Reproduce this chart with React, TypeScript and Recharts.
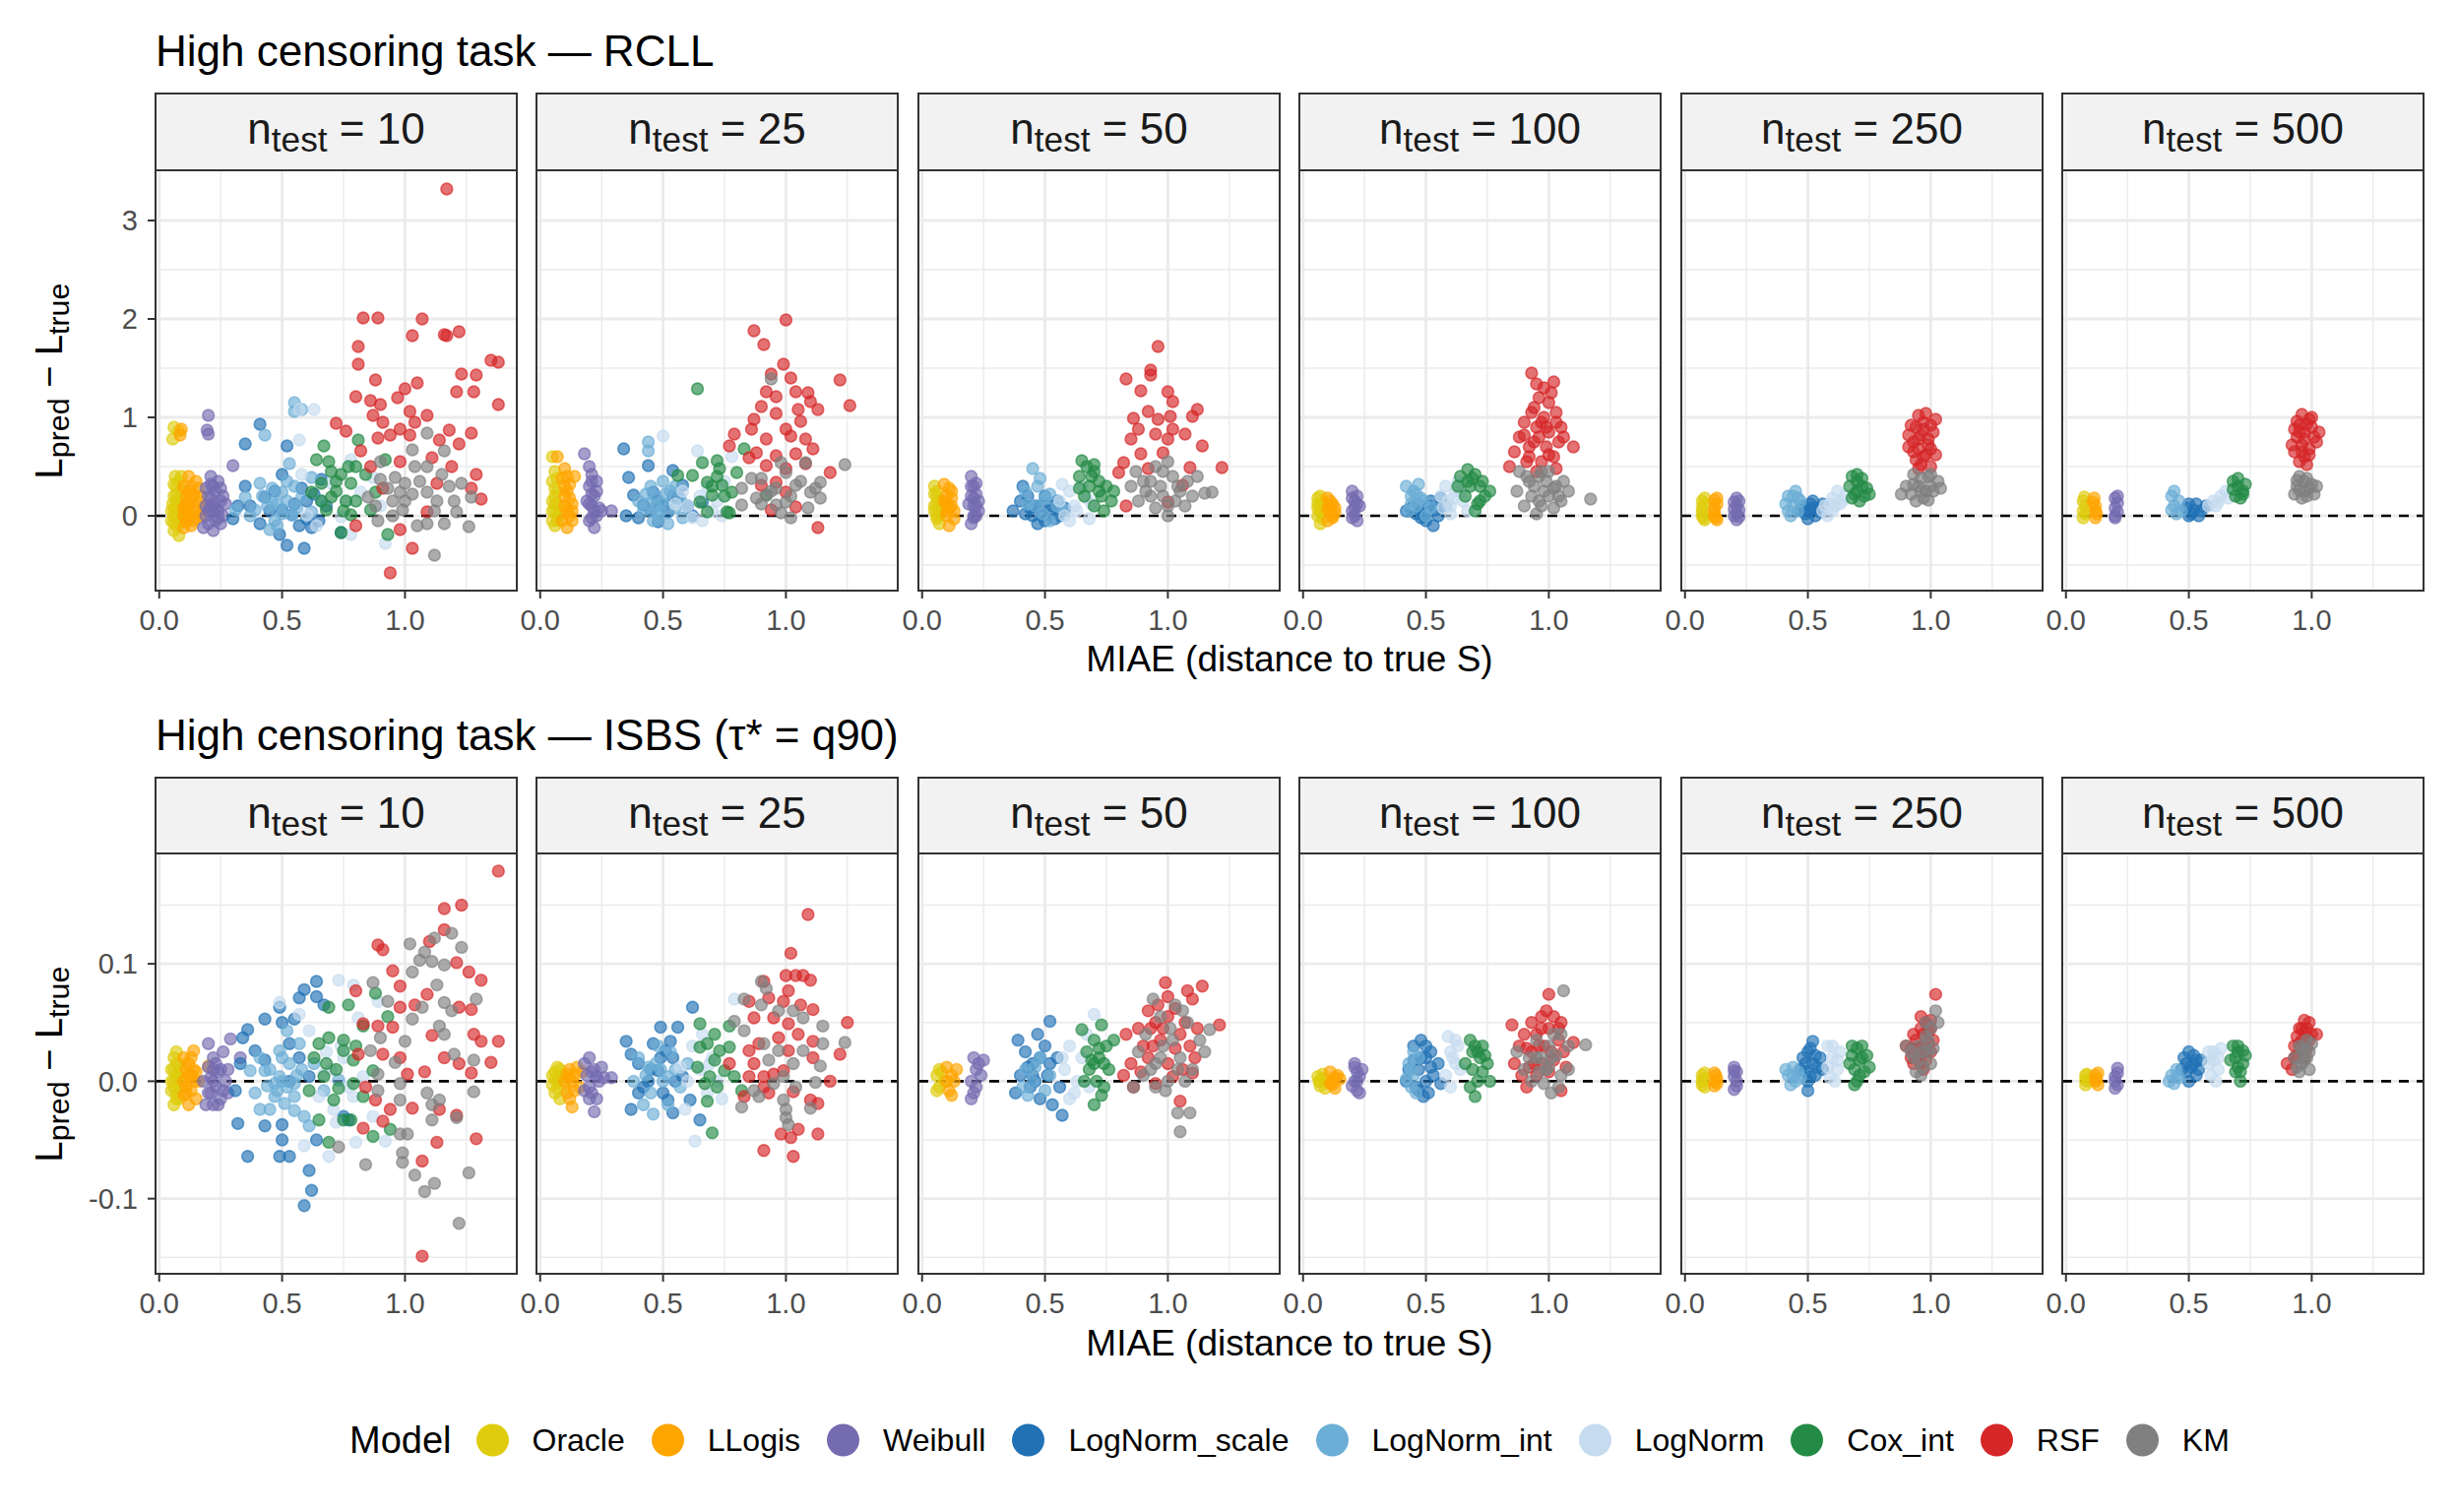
import React from "react";
import {
  ScatterChart,
  Scatter,
  XAxis,
  YAxis,
  CartesianGrid,
  ReferenceLine,
} from "recharts";

type Pt = [number, number];

const FONT = '"Liberation Sans", Arial, Helvetica, sans-serif';

const N_TEST = [10, 25, 50, 100, 250, 500];
const MODELS = ["Oracle", "LLogis", "Weibull", "LogNorm_scale", "LogNorm_int", "LogNorm", "Cox_int", "RSF", "KM"];
const MODEL_COLORS = ["#DFCC0E", "#FFA500", "#756BB1", "#2171B5", "#6BAED6", "#C6DBEF", "#238B45", "#D62728", "#808080"];

const X_TICKS = [0, 0.5, 1];
const X_MINOR = [0.25, 0.75, 1.25];
const RCLL_Y_TICKS = [0, 1, 2, 3];
const RCLL_Y_MINOR = [-0.5, 0.5, 1.5, 2.5];
const ISBS_Y_TICKS = [-0.1, 0, 0.1];
const ISBS_Y_MINOR = [-0.15, -0.05, 0.05, 0.15];

// ---- RCLL row: one list per n_test (10, 25, 50, 100, 250, 500), points are [MIAE, Lpred - Ltrue]
const RCLL_ORACLE: Pt[][] = [
  [[0.06,0.9],[0.055,0.78],[0.08,0.86],[0.06,0.0],[0.07,-0.1],[0.08,0.1],[0.06,0.2],[0.07,0.3],[0.09,-0.05],[0.05,0.05],[0.07,0.15],[0.08,-0.2],[0.06,-0.15],[0.09,0.25],[0.065,0.4],[0.075,0.05],[0.085,0.0],[0.055,0.12],[0.07,-0.02],[0.08,0.35],[0.09,0.18],[0.06,0.08],[0.07,0.22],[0.08,-0.08],[0.05,-0.05],[0.09,0.1],[0.06,0.32],[0.07,0.08],[0.08,0.02],[0.06,-0.07],[0.09,0.4]],
  [[0.05,0.6],[0.06,0.45],[0.05,0.35],[0.06,0.2],[0.05,0.05],[0.07,0.0],[0.06,-0.1],[0.08,0.1],[0.05,0.15],[0.07,-0.05],[0.06,0.28],[0.08,0.02],[0.07,0.12],[0.06,0.05],[0.07,0.25],[0.05,-0.05],[0.07,0.38],[0.06,0.12]],
  [[0.05,0.3],[0.06,0.2],[0.05,0.1],[0.06,0.0],[0.07,-0.08],[0.05,0.05],[0.07,0.15],[0.06,0.25],[0.08,0.08],[0.06,-0.03],[0.07,0.05],[0.06,0.12],[0.05,0.22],[0.07,0.0]],
  [[0.06,0.18],[0.07,0.1],[0.06,0.0],[0.07,-0.08],[0.08,0.05],[0.06,0.12],[0.08,-0.03],[0.07,0.2],[0.07,0.04],[0.06,0.08],[0.08,0.14]],
  [[0.07,0.15],[0.07,0.08],[0.07,0.0],[0.08,-0.04],[0.08,0.12],[0.07,0.04],[0.08,0.18],[0.075,-0.02]],
  [[0.07,0.15],[0.07,0.05],[0.07,-0.02],[0.08,0.1],[0.075,0.19],[0.08,0.02]],
];
const RCLL_LLOGIS: Pt[][] = [
  [[0.09,0.88],[0.085,0.82],[0.1,0.0],[0.12,0.1],[0.14,-0.05],[0.11,0.2],[0.13,0.3],[0.15,0.05],[0.1,-0.12],[0.12,0.4],[0.16,0.15],[0.17,0.0],[0.11,0.05],[0.13,-0.1],[0.14,0.22],[0.18,0.08],[0.1,0.3],[0.12,-0.02],[0.15,0.35],[0.11,0.12],[0.13,0.18],[0.15,-0.02],[0.12,0.25],[0.14,0.1],[0.16,0.28],[0.1,0.08],[0.13,0.0],[0.17,0.2],[0.11,-0.06]],
  [[0.07,0.6],[0.1,0.48],[0.09,0.38],[0.11,0.25],[0.1,0.1],[0.12,0.0],[0.09,-0.05],[0.13,0.05],[0.11,-0.12],[0.12,0.18],[0.1,0.3],[0.13,0.12],[0.14,0.4],[0.11,0.05],[0.1,0.2],[0.12,0.32],[0.13,-0.05],[0.11,0.4]],
  [[0.09,0.32],[0.1,0.2],[0.12,0.1],[0.1,0.0],[0.11,-0.1],[0.13,0.05],[0.09,0.15],[0.12,0.25],[0.11,0.08],[0.13,-0.03],[0.1,0.12],[0.1,0.05],[0.12,0.18],[0.11,0.28]],
  [[0.1,0.18],[0.11,0.1],[0.12,0.0],[0.1,-0.05],[0.13,0.08],[0.11,0.15],[0.12,-0.02],[0.13,0.03],[0.11,0.04],[0.12,0.12],[0.1,0.07]],
  [[0.12,0.16],[0.12,0.08],[0.12,0.0],[0.13,-0.04],[0.13,0.12],[0.12,0.04],[0.13,0.18],[0.125,-0.02]],
  [[0.11,0.14],[0.12,0.05],[0.12,-0.02],[0.12,0.1],[0.115,0.18],[0.125,0.02]],
];
const RCLL_WEIBULL: Pt[][] = [
  [[0.2,1.02],[0.195,0.87],[0.2,0.83],[0.3,0.51],[0.19,0.0],[0.21,0.1],[0.23,-0.05],[0.2,0.2],[0.22,0.3],[0.24,0.05],[0.18,-0.12],[0.25,0.15],[0.21,0.4],[0.23,0.25],[0.26,0.0],[0.19,0.1],[0.22,-0.15],[0.24,0.35],[0.27,0.12],[0.2,0.05],[0.25,-0.08],[0.21,0.18],[0.23,0.08],[0.2,-0.08],[0.22,0.12],[0.25,0.28],[0.19,0.28],[0.24,-0.02],[0.22,0.05],[0.26,0.2],[0.21,0.32]],
  [[0.18,0.63],[0.2,0.5],[0.21,0.42],[0.2,0.3],[0.22,0.2],[0.21,0.1],[0.23,0.0],[0.2,-0.05],[0.22,-0.12],[0.24,0.08],[0.19,0.15],[0.23,0.25],[0.25,0.05],[0.29,0.05],[0.21,0.35],[0.21,0.22],[0.22,0.05],[0.2,0.12],[0.23,0.35],[0.21,-0.02]],
  [[0.2,0.4],[0.21,0.3],[0.2,0.2],[0.22,0.1],[0.21,0.0],[0.2,-0.08],[0.23,0.05],[0.22,0.22],[0.19,0.12],[0.23,0.15],[0.21,-0.02],[0.22,0.33],[0.21,0.1],[0.22,0.0],[0.2,0.3],[0.21,0.18]],
  [[0.2,0.25],[0.21,0.15],[0.2,0.05],[0.22,-0.05],[0.21,0.0],[0.23,0.1],[0.22,0.2],[0.2,-0.02],[0.21,0.08],[0.22,0.12],[0.2,0.18]],
  [[0.21,0.18],[0.21,0.1],[0.21,0.02],[0.21,-0.04],[0.22,0.06],[0.2,0.14],[0.2,0.0],[0.22,0.15],[0.2,0.07],[0.22,-0.01]],
  [[0.2,0.18],[0.2,0.08],[0.2,0.0],[0.21,0.13],[0.2,-0.02],[0.21,0.04],[0.21,0.2]],
];
const RCLL_LN_SCALE: Pt[][] = [
  [[0.41,0.93],[0.35,0.73],[0.52,0.71],[0.5,0.42],[0.52,-0.3],[0.59,-0.33],[0.35,0.3],[0.32,0.1],[0.3,-0.03],[0.43,0.19],[0.5,0.06],[0.54,0.01],[0.6,-0.03],[0.62,-0.12],[0.66,0.37],[0.6,0.15],[0.49,-0.19],[0.41,-0.08],[0.58,0.28],[0.74,-0.17],[0.68,0.1],[0.37,0.1],[0.45,0.05],[0.55,0.12],[0.63,0.22],[0.57,-0.1],[0.47,0.25],[0.65,-0.05]],
  [[0.34,0.68],[0.36,0.39],[0.44,0.51],[0.35,0.0],[0.38,0.21],[0.48,-0.06],[0.54,0.46],[0.56,0.18],[0.52,0.04],[0.42,0.11],[0.62,0.0],[0.66,0.14],[0.58,0.31],[0.46,0.24],[0.5,0.11],[0.4,-0.02],[0.48,0.15],[0.54,0.2],[0.45,0.05],[0.6,0.1]],
  [[0.37,0.05],[0.4,0.15],[0.41,0.3],[0.45,0.0],[0.48,0.1],[0.5,-0.05],[0.52,0.05],[0.55,0.15],[0.43,0.2],[0.47,-0.08],[0.54,-0.03],[0.58,0.08],[0.44,0.08],[0.5,0.2],[0.56,0.0],[0.46,0.1],[0.49,0.0],[0.53,0.1],[0.42,0.02]],
  [[0.42,0.05],[0.45,0.1],[0.48,-0.02],[0.5,0.05],[0.52,0.15],[0.55,0.0],[0.53,-0.1],[0.47,0.12],[0.58,0.1],[0.5,-0.05],[0.56,0.18],[0.46,0.02],[0.51,0.1],[0.54,0.06],[0.49,0.0],[0.44,0.08]],
  [[0.48,0.1],[0.5,0.05],[0.52,0.15],[0.5,-0.03],[0.54,0.07],[0.56,0.12],[0.53,0.0],[0.49,0.02],[0.51,0.12],[0.55,0.04],[0.52,0.08],[0.47,0.06]],
  [[0.49,0.08],[0.51,0.02],[0.53,0.12],[0.55,0.05],[0.5,0.0],[0.57,0.1],[0.52,0.06],[0.54,0.0],[0.5,0.12]],
];
const RCLL_LN_INT: Pt[][] = [
  [[0.55,1.15],[0.58,1.08],[0.55,1.06],[0.43,0.82],[0.53,0.53],[0.41,0.33],[0.35,0.19],[0.46,0.15],[0.39,0.06],[0.5,0.24],[0.58,0.19],[0.47,-0.05],[0.45,-0.14],[0.62,0.39],[0.66,0.15],[0.37,0.0],[0.54,0.01],[0.31,0.06],[0.62,0.04],[0.44,0.1],[0.48,0.12],[0.52,0.15],[0.56,0.08],[0.46,0.28],[0.5,0.02],[0.42,0.2],[0.55,0.3],[0.48,-0.1],[0.52,0.35]],
  [[0.44,0.75],[0.44,0.66],[0.45,0.3],[0.47,0.2],[0.5,0.12],[0.42,0.05],[0.48,0.0],[0.53,0.25],[0.55,0.08],[0.46,-0.05],[0.4,0.15],[0.52,-0.08],[0.57,0.18],[0.5,0.35],[0.43,0.22],[0.58,-0.02],[0.47,0.1],[0.51,0.22],[0.44,0.12],[0.55,0.3],[0.49,0.05]],
  [[0.45,0.48],[0.42,0.25],[0.47,0.3],[0.5,0.18],[0.46,0.1],[0.52,0.22],[0.49,0.02],[0.55,0.1],[0.43,0.12],[0.58,0.05],[0.52,-0.05],[0.48,0.38]],
  [[0.42,0.3],[0.44,0.2],[0.46,0.1],[0.43,0.05],[0.48,0.18],[0.5,0.0],[0.45,0.25],[0.52,0.08],[0.47,0.32],[0.44,0.12],[0.49,0.15],[0.46,0.22]],
  [[0.42,0.2],[0.44,0.1],[0.46,0.05],[0.43,0.0],[0.45,0.25],[0.47,0.15],[0.41,0.12],[0.44,0.2],[0.42,0.05],[0.46,0.18]],
  [[0.43,0.2],[0.44,0.1],[0.45,0.02],[0.46,0.15],[0.47,0.05],[0.44,0.25],[0.43,0.06]],
];
const RCLL_LN: Pt[][] = [
  [[0.63,1.08],[0.57,0.77],[0.57,1.08],[0.78,0.57],[0.92,-0.28],[0.78,-0.19],[0.82,0.24],[0.6,0.01],[0.7,0.33],[0.87,0.39],[0.76,0.15],[0.64,-0.1],[0.9,0.1],[0.74,-0.01],[0.58,0.42]],
  [[0.5,0.81],[0.64,0.66],[0.78,0.6],[0.6,0.1],[0.65,0.2],[0.7,0.05],[0.62,-0.02],[0.68,0.3],[0.72,0.15],[0.58,0.25],[0.74,0.0],[0.66,-0.05],[0.75,0.35],[0.55,0.12]],
  [[0.56,0.15],[0.6,0.25],[0.62,0.1],[0.58,0.0],[0.65,0.3],[0.63,0.05],[0.67,0.18],[0.6,-0.05],[0.69,0.12],[0.57,0.32],[0.68,-0.03]],
  [[0.56,0.2],[0.58,0.3],[0.6,0.1],[0.62,0.25],[0.65,0.15],[0.63,0.35],[0.6,0.02],[0.67,0.05],[0.57,0.08],[0.61,0.18],[0.64,0.25],[0.59,0.15]],
  [[0.57,0.1],[0.6,0.18],[0.62,0.25],[0.65,0.2],[0.6,0.05],[0.58,0.0],[0.63,0.12],[0.56,0.05],[0.61,0.1],[0.64,0.15],[0.59,0.12]],
  [[0.6,0.15],[0.63,0.2],[0.65,0.25],[0.61,0.1],[0.66,0.18],[0.62,0.14],[0.58,0.1]],
];
const RCLL_COX: Pt[][] = [
  [[0.67,0.71],[0.81,0.77],[0.64,0.57],[0.69,0.55],[0.74,0.42],[0.78,0.33],[0.66,0.33],[0.7,0.19],[0.62,0.24],[0.76,0.15],[0.86,0.06],[0.84,0.42],[0.93,-0.19],[0.74,-0.17],[0.92,0.57],[0.78,0.01],[0.68,0.06],[0.88,0.24],[0.8,0.5],[0.72,0.35],[0.72,0.25],[0.75,0.05],[0.8,0.15],[0.7,0.45],[0.77,0.5],[0.66,0.15]],
  [[0.64,1.29],[0.83,0.68],[0.66,0.54],[0.72,0.56],[0.62,0.41],[0.68,0.34],[0.74,0.31],[0.78,0.24],[0.7,0.21],[0.65,0.14],[0.76,0.04],[0.92,0.21],[0.68,0.04],[0.56,0.41],[0.8,0.44],[0.77,0.03],[0.72,0.4],[0.75,0.2],[0.7,0.3],[0.73,0.48]],
  [[0.65,0.56],[0.67,0.5],[0.64,0.4],[0.7,0.45],[0.72,0.35],[0.68,0.3],[0.75,0.3],[0.73,0.2],[0.66,0.2],[0.77,0.15],[0.7,0.1],[0.74,0.05],[0.78,0.25],[0.64,0.28],[0.69,0.4],[0.72,0.25],[0.7,0.52]],
  [[0.64,0.4],[0.67,0.47],[0.7,0.42],[0.72,0.3],[0.68,0.3],[0.74,0.2],[0.66,0.2],[0.71,0.12],[0.76,0.25],[0.7,0.05],[0.63,0.3],[0.69,0.38],[0.73,0.35],[0.67,0.35],[0.72,0.15]],
  [[0.68,0.4],[0.7,0.35],[0.72,0.3],[0.69,0.22],[0.73,0.2],[0.71,0.15],[0.74,0.28],[0.7,0.42],[0.67,0.3],[0.72,0.38],[0.7,0.25],[0.75,0.22],[0.68,0.18]],
  [[0.68,0.35],[0.7,0.3],[0.72,0.25],[0.69,0.2],[0.73,0.32],[0.71,0.18],[0.7,0.38],[0.72,0.22],[0.68,0.27]],
];
const RCLL_RSF: Pt[][] = [
  [[1.17,3.32],[0.83,2.01],[0.89,2.01],[1.07,2.0],[1.03,1.83],[1.16,1.84],[1.17,1.83],[1.22,1.87],[0.81,1.72],[0.81,1.54],[1.35,1.58],[1.38,1.56],[0.88,1.38],[1.05,1.35],[1.0,1.29],[1.23,1.44],[1.29,1.43],[1.21,1.26],[1.28,1.26],[0.8,1.21],[0.86,1.17],[0.9,1.13],[0.97,1.2],[1.38,1.13],[1.02,1.06],[1.09,1.02],[0.87,1.02],[0.91,0.95],[0.72,0.94],[0.76,0.86],[0.98,0.88],[1.04,0.95],[1.18,0.87],[1.27,0.84],[0.89,0.79],[0.94,0.82],[1.02,0.82],[1.14,0.77],[1.22,0.73],[0.82,0.66],[0.98,0.55],[1.11,0.59],[1.29,0.42],[0.91,0.28],[1.09,0.04],[1.31,0.17],[1.27,0.28],[0.8,-0.1],[0.98,-0.14],[1.03,-0.33],[0.94,-0.58],[1.13,0.33],[1.19,0.5],[0.86,0.5]],
  [[1.0,1.99],[0.87,1.88],[0.91,1.74],[0.99,1.54],[1.22,1.38],[1.26,1.12],[0.94,1.44],[1.02,1.4],[0.92,1.26],[0.96,1.21],[1.04,1.26],[1.09,1.25],[1.1,1.16],[1.13,1.08],[0.9,1.11],[0.96,1.04],[1.05,1.08],[0.87,0.98],[1.06,0.96],[0.86,0.88],[1.0,0.88],[0.92,0.78],[1.02,0.81],[1.08,0.78],[0.79,0.83],[0.77,0.71],[1.11,0.68],[0.88,0.64],[0.96,0.61],[1.04,0.63],[0.85,0.59],[1.0,0.48],[1.08,0.53],[1.18,0.44],[0.92,0.51],[0.96,0.34],[1.0,0.24],[1.04,0.09],[0.94,0.06],[1.13,-0.12],[0.9,0.31]],
  [[0.96,1.72],[0.93,1.48],[0.93,1.43],[0.83,1.39],[0.89,1.27],[1.0,1.26],[1.02,1.16],[1.12,1.08],[1.1,1.01],[0.86,0.99],[0.92,1.06],[0.96,0.98],[1.01,1.01],[0.88,0.88],[0.95,0.83],[1.0,0.78],[1.07,0.83],[1.14,0.71],[0.85,0.78],[1.22,0.49],[0.82,0.54],[0.89,0.63],[0.98,0.64],[1.09,0.49],[0.8,0.44],[1.0,0.14],[0.83,0.1],[1.06,0.31],[0.92,0.48],[1.02,0.88]],
  [[0.93,1.45],[0.95,1.34],[1.02,1.36],[0.96,1.2],[1.0,1.15],[0.93,1.05],[0.98,1.0],[1.03,1.05],[0.9,0.95],[0.95,0.9],[1.0,0.85],[1.05,0.9],[0.88,0.8],[0.94,0.75],[0.99,0.7],[1.04,0.75],[1.1,0.7],[0.86,0.65],[0.92,0.6],[0.97,0.55],[1.02,0.6],[0.84,0.5],[0.95,0.45],[1.03,0.48],[0.9,0.82],[1.01,1.25],[0.97,0.95],[0.92,0.7],[1.0,0.62],[0.96,0.8],[1.06,0.8],[0.94,1.1],[0.99,0.9],[1.03,0.95],[0.91,0.55],[0.98,1.3]],
  [[0.95,1.02],[0.97,0.95],[0.94,0.9],[1.0,0.92],[0.96,0.82],[0.93,0.75],[0.99,0.78],[0.95,0.68],[0.98,0.62],[0.94,0.57],[1.0,0.68],[0.96,0.52],[1.01,0.85],[0.93,0.65],[0.97,0.88],[0.95,0.78],[0.99,0.72],[0.97,0.6],[1.02,0.98],[0.91,0.82],[0.92,0.92],[0.98,1.04],[1.02,0.62],[0.95,0.48],[0.91,0.7],[1.0,0.5]],
  [[0.96,1.03],[0.99,0.98],[0.95,0.92],[1.0,0.9],[0.97,0.85],[0.94,0.8],[1.01,0.8],[0.96,0.72],[0.99,0.68],[0.93,0.65],[0.97,0.6],[0.95,0.55],[0.98,0.52],[1.02,0.75],[0.92,0.72],[0.98,0.93],[0.96,0.65],[0.99,0.62],[0.95,0.85],[0.97,0.78],[1.0,1.0],[0.94,0.96],[1.03,0.85],[0.93,0.88]],
];
const RCLL_KM: Pt[][] = [
  [[1.03,0.67],[1.09,0.84],[1.16,0.66],[0.96,0.39],[1.04,0.5],[1.09,0.5],[0.9,0.37],[1.0,0.33],[1.15,0.42],[1.2,0.15],[1.23,0.33],[0.85,0.19],[1.09,0.24],[0.95,0.15],[0.99,0.06],[1.05,-0.1],[1.09,-0.08],[1.16,-0.08],[0.89,-0.05],[1.12,-0.4],[1.26,-0.11],[1.21,0.04],[1.27,0.19],[1.13,0.15],[0.98,0.24],[0.88,0.1],[0.93,0.28],[1.0,0.15],[1.06,0.35],[1.12,0.05],[0.95,0.0],[1.18,0.3],[1.03,0.22],[0.9,0.55]],
  [[0.94,1.39],[1.24,0.52],[1.14,0.34],[1.08,0.54],[1.0,0.44],[0.86,0.38],[0.82,0.28],[0.88,0.18],[0.96,0.28],[1.04,0.31],[1.1,0.24],[1.14,0.18],[1.0,0.14],[0.92,0.21],[1.02,-0.02],[0.98,0.03],[0.82,0.11],[1.09,0.08],[0.96,0.11],[0.9,0.38],[0.98,0.54],[0.94,0.25],[1.02,0.2],[1.06,0.35],[0.9,0.12],[1.12,0.28]],
  [[0.87,0.45],[0.9,0.35],[0.95,0.5],[1.0,0.55],[1.02,0.4],[0.97,0.3],[0.93,0.2],[0.88,0.15],[1.05,0.25],[1.08,0.35],[1.12,0.4],[1.1,0.2],[1.15,0.23],[1.18,0.24],[1.0,0.1],[0.95,0.08],[1.03,0.15],[1.0,0.0],[0.85,0.3],[1.07,0.1],[0.98,0.2],[0.93,0.35],[0.98,0.45],[1.04,0.3],[0.91,0.25]],
  [[0.88,0.45],[0.92,0.35],[0.96,0.4],[1.0,0.45],[1.03,0.3],[0.98,0.25],[0.93,0.2],[0.87,0.25],[1.05,0.15],[0.97,0.1],[0.95,0.02],[1.02,0.08],[1.08,0.25],[1.17,0.17],[0.9,0.1],[1.0,0.2],[0.94,0.3],[1.06,0.35],[0.99,0.35],[0.96,0.15],[1.02,0.28],[0.91,0.4],[1.04,0.2],[0.97,0.45]],
  [[0.93,0.42],[0.96,0.38],[0.99,0.4],[0.95,0.3],[1.0,0.3],[0.92,0.22],[0.97,0.18],[0.94,0.15],[1.01,0.25],[0.98,0.25],[0.9,0.3],[0.88,0.22],[1.03,0.35],[0.96,0.25],[0.93,0.32],[1.04,0.28],[0.99,0.16],[1.0,0.42]],
  [[0.95,0.4],[0.98,0.38],[0.94,0.3],[1.0,0.32],[0.97,0.25],[0.93,0.22],[1.01,0.22],[0.96,0.18],[0.97,0.35],[0.99,0.28],[0.95,0.26],[1.02,0.3],[0.98,0.2],[0.94,0.36]],
];

// ---- ISBS row
const ISBS_ORACLE: Pt[][] = [
  [[0.05,0.01],[0.06,0.0],[0.07,-0.01],[0.06,0.02],[0.08,0.005],[0.05,-0.008],[0.07,0.015],[0.08,-0.015],[0.06,-0.02],[0.09,0.0],[0.07,0.025],[0.06,0.01],[0.07,0.005],[0.05,0.0],[0.08,0.015],[0.07,-0.015],[0.06,-0.005],[0.09,0.01],[0.08,-0.005]],
  [[0.05,0.005],[0.07,0.0],[0.06,-0.01],[0.08,0.01],[0.1,-0.005],[0.05,-0.003],[0.09,0.005],[0.07,0.012],[0.08,-0.015],[0.06,0.008],[0.06,0.002],[0.07,-0.006],[0.08,0.003]],
  [[0.06,0.005],[0.07,-0.005],[0.08,0.008],[0.06,-0.008],[0.09,0.0],[0.07,0.01]],
  [[0.06,0.004],[0.07,-0.004],[0.08,0.006],[0.07,0.0],[0.09,-0.006],[0.065,0.0],[0.08,0.002]],
  [[0.07,0.005],[0.08,-0.005],[0.07,0.0],[0.08,0.007],[0.075,0.002],[0.07,-0.003]],
  [[0.08,0.005],[0.08,-0.003],[0.09,0.0],[0.085,0.006],[0.08,0.001]],
];
const ISBS_LLOGIS: Pt[][] = [
  [[0.14,0.026],[0.2,0.013],[0.1,0.0],[0.12,0.015],[0.11,-0.01],[0.13,0.005],[0.15,-0.015],[0.1,0.02],[0.12,-0.02],[0.16,0.0],[0.14,0.01],[0.11,-0.005],[0.11,0.01],[0.13,-0.008],[0.12,0.005],[0.14,0.0],[0.1,-0.012],[0.15,0.008],[0.13,0.02]],
  [[0.13,-0.022],[0.1,0.0],[0.12,0.01],[0.14,0.005],[0.11,-0.01],[0.16,-0.005],[0.15,0.012],[0.13,0.0],[0.17,0.008],[0.12,-0.015],[0.12,0.003],[0.14,-0.008],[0.11,0.006]],
  [[0.1,0.012],[0.12,0.005],[0.11,-0.008],[0.13,0.0],[0.14,0.01],[0.12,-0.012],[0.1,0.0]],
  [[0.11,0.008],[0.12,0.0],[0.13,-0.006],[0.14,0.005],[0.12,-0.003],[0.15,0.002],[0.13,0.003],[0.11,-0.002]],
  [[0.12,0.007],[0.12,-0.004],[0.13,0.002],[0.12,0.0],[0.125,0.005],[0.13,-0.002]],
  [[0.12,0.005],[0.13,-0.003],[0.12,0.0],[0.13,0.007],[0.125,0.002]],
];
const ISBS_WEIBULL: Pt[][] = [
  [[0.2,0.032],[0.29,0.036],[0.33,0.02],[0.22,0.02],[0.25,0.01],[0.18,0.0],[0.21,-0.01],[0.24,-0.02],[0.27,0.0],[0.2,0.012],[0.23,-0.005],[0.26,0.025],[0.19,-0.02],[0.28,0.01],[0.22,0.0],[0.22,0.01],[0.24,0.008],[0.21,0.003],[0.26,-0.008],[0.23,0.015],[0.2,-0.01],[0.25,-0.015],[0.22,-0.02],[0.28,-0.01]],
  [[0.22,-0.026],[0.18,0.015],[0.2,0.02],[0.22,0.01],[0.24,0.0],[0.2,-0.005],[0.23,-0.015],[0.25,0.012],[0.19,0.005],[0.21,-0.01],[0.26,0.003],[0.18,-0.008],[0.29,0.003],[0.21,0.008],[0.23,0.004],[0.2,-0.015]],
  [[0.21,0.02],[0.22,0.01],[0.2,0.0],[0.21,-0.01],[0.23,0.015],[0.2,-0.015],[0.24,0.005],[0.22,-0.005],[0.25,0.018]],
  [[0.21,0.015],[0.22,0.008],[0.21,0.0],[0.22,-0.008],[0.23,0.004],[0.2,-0.004],[0.24,0.01],[0.23,-0.01],[0.22,0.0],[0.21,0.012]],
  [[0.2,0.012],[0.2,0.004],[0.21,-0.004],[0.2,-0.007],[0.21,0.008],[0.21,0.0],[0.2,0.009]],
  [[0.21,0.011],[0.2,0.004],[0.21,-0.003],[0.2,-0.006],[0.21,0.007],[0.2,0.0]],
];
const ISBS_LN_SCALE: Pt[][] = [
  [[0.64,0.085],[0.59,0.078],[0.64,0.072],[0.57,0.071],[0.49,0.063],[0.43,0.053],[0.36,0.044],[0.34,0.037],[0.55,0.053],[0.5,0.05],[0.67,0.065],[0.39,0.026],[0.33,0.015],[0.43,0.018],[0.53,0.032],[0.32,-0.036],[0.43,-0.038],[0.5,-0.037],[0.5,-0.05],[0.36,-0.064],[0.49,-0.064],[0.53,-0.064],[0.61,-0.076],[0.62,-0.093],[0.59,-0.106],[0.64,-0.05],[0.53,0.0],[0.31,-0.008],[0.75,-0.03],[0.77,-0.033],[0.57,0.02],[0.61,0.004]],
  [[0.62,0.063],[0.49,0.046],[0.56,0.046],[0.35,0.034],[0.37,0.023],[0.46,0.032],[0.53,0.034],[0.4,0.015],[0.48,0.009],[0.54,0.02],[0.44,0.0],[0.37,-0.024],[0.52,-0.016],[0.54,-0.027],[0.65,-0.033],[0.61,-0.016],[0.5,-0.01],[0.4,-0.01],[0.58,0.004],[0.51,0.026],[0.45,0.01],[0.49,0.02],[0.55,0.0],[0.42,-0.005]],
  [[0.52,0.051],[0.39,0.035],[0.57,-0.029],[0.47,0.04],[0.42,0.025],[0.45,0.015],[0.5,0.03],[0.55,0.02],[0.4,0.005],[0.44,-0.005],[0.48,-0.015],[0.53,-0.02],[0.51,0.005],[0.56,-0.005],[0.46,0.0],[0.38,-0.01],[0.48,0.02],[0.45,0.005],[0.52,0.015],[0.43,0.012]],
  [[0.45,0.03],[0.48,0.035],[0.5,0.02],[0.52,0.025],[0.47,0.01],[0.43,0.01],[0.5,0.0],[0.53,0.005],[0.55,0.015],[0.46,-0.005],[0.51,-0.01],[0.56,-0.002],[0.42,0.0],[0.49,-0.013],[0.48,0.02],[0.52,0.012],[0.45,0.018],[0.5,0.03],[0.47,-0.008]],
  [[0.52,0.034],[0.48,0.02],[0.5,0.025],[0.52,0.015],[0.49,0.008],[0.53,0.005],[0.5,0.0],[0.54,0.012],[0.5,-0.008],[0.47,0.01],[0.55,0.02],[0.51,0.028],[0.53,0.022],[0.49,0.015],[0.51,0.004],[0.56,0.01]],
  [[0.48,0.02],[0.5,0.025],[0.52,0.015],[0.49,0.008],[0.53,0.005],[0.5,0.0],[0.55,0.018],[0.47,0.01],[0.54,0.01],[0.51,0.012],[0.52,0.022],[0.49,0.015],[0.53,0.018]],
];
const ISBS_LN_INT: Pt[][] = [
  [[0.49,0.026],[0.43,0.009],[0.47,-0.002],[0.39,-0.01],[0.41,-0.024],[0.51,-0.019],[0.55,-0.013],[0.59,-0.03],[0.61,-0.038],[0.47,-0.013],[0.37,0.009],[0.52,0.043],[0.57,0.032],[0.63,0.015],[0.67,-0.008],[0.45,-0.024],[0.55,-0.002],[0.73,0.001],[0.49,0.004],[0.41,0.02],[0.45,0.01],[0.5,0.0],[0.53,0.015],[0.56,0.005],[0.48,-0.008],[0.52,-0.005],[0.44,-0.004],[0.58,0.01],[0.5,0.02],[0.55,-0.025]],
  [[0.4,0.02],[0.43,0.005],[0.45,-0.01],[0.47,0.015],[0.5,0.0],[0.52,-0.02],[0.55,0.01],[0.42,-0.02],[0.48,0.03],[0.57,-0.005],[0.38,0.0],[0.53,0.025],[0.46,-0.028],[0.6,0.015],[0.49,0.01],[0.44,0.012],[0.52,0.004]],
  [[0.42,0.01],[0.45,0.0],[0.43,-0.012],[0.48,0.02],[0.5,-0.008],[0.46,0.012],[0.52,0.005],[0.41,-0.005]],
  [[0.43,0.015],[0.45,0.005],[0.44,-0.005],[0.47,0.02],[0.46,-0.01],[0.42,0.002],[0.44,0.01],[0.45,0.025]],
  [[0.42,0.005],[0.44,0.012],[0.45,0.0],[0.43,-0.003],[0.46,0.008],[0.41,0.01],[0.44,0.004],[0.47,0.003]],
  [[0.43,0.005],[0.45,0.01],[0.44,-0.002],[0.46,0.003],[0.42,0.0],[0.45,0.004]],
];
const ISBS_LN: Pt[][] = [
  [[0.73,0.086],[0.79,0.082],[0.49,0.067],[0.57,0.057],[0.89,0.068],[0.81,0.054],[0.59,-0.055],[0.69,-0.064],[0.8,-0.052],[0.92,-0.051],[0.75,0.02],[0.65,-0.013],[0.79,-0.013],[0.71,-0.024],[0.83,0.004],[0.61,0.043],[0.67,0.006],[0.87,-0.03],[0.7,0.01],[0.74,0.03],[0.77,-0.005],[0.68,0.025],[0.72,-0.035]],
  [[0.79,0.07],[0.63,-0.051],[0.59,-0.024],[0.62,0.03],[0.65,0.01],[0.68,-0.01],[0.7,0.02],[0.72,0.0],[0.6,0.0],[0.66,0.04],[0.74,-0.015],[0.69,0.015],[0.57,0.012]],
  [[0.7,0.057],[0.6,0.03],[0.58,0.01],[0.62,-0.01],[0.65,0.02],[0.63,0.0],[0.67,0.04],[0.6,-0.015],[0.57,0.02],[0.68,-0.005]],
  [[0.59,0.038],[0.6,0.025],[0.62,0.015],[0.58,0.005],[0.63,0.03],[0.6,-0.005],[0.64,0.01],[0.61,0.02],[0.62,0.035]],
  [[0.58,0.03],[0.6,0.02],[0.62,0.01],[0.59,0.003],[0.63,0.025],[0.61,0.0],[0.6,0.03],[0.58,0.012],[0.62,0.018]],
  [[0.58,0.025],[0.6,0.018],[0.62,0.01],[0.59,0.005],[0.63,0.028],[0.61,0.0],[0.6,0.025],[0.62,0.02],[0.58,0.015]],
];
const ISBS_COX: Pt[][] = [
  [[0.88,0.075],[0.77,0.065],[0.69,0.063],[0.93,0.055],[0.83,0.047],[0.69,0.037],[0.65,0.032],[0.75,0.026],[0.79,0.018],[0.63,0.02],[0.67,0.004],[0.61,-0.008],[0.71,-0.016],[0.75,-0.033],[0.78,-0.033],[0.87,-0.047],[0.69,-0.052],[0.94,-0.041],[0.87,0.009],[0.79,-0.002],[0.65,-0.033],[0.83,-0.013],[0.72,0.01],[0.75,0.035],[0.68,0.015],[0.73,-0.006],[0.8,0.03]],
  [[0.65,0.049],[0.7,-0.044],[0.68,-0.017],[0.77,0.047],[0.71,0.04],[0.68,0.032],[0.65,0.029],[0.73,0.026],[0.71,0.018],[0.75,0.009],[0.69,0.004],[0.67,-0.002],[0.72,-0.005],[0.79,0.004],[0.82,-0.008],[0.77,0.029],[0.64,0.012]],
  [[0.73,0.048],[0.7,-0.02],[0.65,0.044],[0.7,0.035],[0.75,0.03],[0.72,0.02],[0.76,0.01],[0.68,0.01],[0.71,0.0],[0.74,-0.005],[0.67,0.025],[0.78,0.035],[0.73,-0.012],[0.66,0.0],[0.69,0.018],[0.72,0.028],[0.7,0.015],[0.74,0.015]],
  [[0.68,0.035],[0.7,0.03],[0.73,0.03],[0.72,0.02],[0.69,0.01],[0.75,0.015],[0.71,0.0],[0.68,-0.005],[0.76,0.0],[0.7,-0.013],[0.74,0.022],[0.66,0.015],[0.71,0.025],[0.73,0.008],[0.69,0.025]],
  [[0.68,0.03],[0.7,0.028],[0.72,0.02],[0.69,0.01],[0.73,0.008],[0.7,0.0],[0.67,0.015],[0.75,0.012],[0.69,-0.003],[0.71,0.018],[0.72,0.03],[0.74,0.022],[0.68,0.022],[0.71,0.005]],
  [[0.68,0.03],[0.7,0.025],[0.72,0.015],[0.69,0.008],[0.71,0.0],[0.67,0.018],[0.73,0.022],[0.7,0.012],[0.7,0.03],[0.72,0.026],[0.69,0.02],[0.71,0.008]],
];
const ISBS_RSF: Pt[][] = [
  [[1.38,0.179],[1.16,0.147],[1.23,0.15],[1.16,0.129],[1.1,0.119],[0.89,0.116],[0.91,0.112],[0.95,0.094],[0.98,0.081],[0.8,0.077],[1.21,0.101],[1.26,0.093],[1.31,0.086],[1.09,0.074],[1.04,0.065],[0.98,0.063],[1.22,0.063],[1.27,0.061],[0.83,0.049],[0.89,0.047],[0.95,0.046],[1.11,0.039],[1.28,0.04],[1.31,0.034],[1.38,0.034],[0.81,0.023],[0.91,0.023],[0.98,0.02],[1.16,0.02],[1.22,0.015],[1.27,0.007],[1.35,0.016],[1.08,0.008],[1.01,0.006],[0.84,-0.005],[0.88,-0.016],[0.94,-0.024],[1.03,-0.023],[1.14,-0.024],[1.21,-0.029],[0.83,-0.04],[0.91,-0.034],[1.29,-0.049],[1.13,-0.052],[1.07,-0.068],[1.07,-0.149]],
  [[1.09,0.142],[1.02,0.109],[1.0,0.09],[1.04,0.09],[1.07,0.09],[1.1,0.086],[0.91,0.085],[1.01,0.077],[0.85,0.068],[0.93,0.071],[0.99,0.068],[1.06,0.065],[1.11,0.061],[1.25,0.05],[0.87,0.054],[0.95,0.054],[1.01,0.049],[1.05,0.04],[0.97,0.037],[0.89,0.032],[1.11,0.034],[0.85,0.026],[1.01,0.026],[1.22,0.023],[1.11,0.02],[0.87,0.015],[0.77,0.015],[0.91,0.004],[0.95,0.006],[0.99,0.009],[1.18,0.0],[0.83,-0.013],[0.91,-0.005],[1.03,-0.009],[1.1,-0.016],[1.13,-0.019],[0.98,-0.045],[1.02,-0.048],[1.05,-0.041],[1.13,-0.045],[0.91,-0.059],[1.03,-0.064],[0.85,0.004],[0.93,-0.01]],
  [[0.99,0.084],[1.14,0.081],[1.08,0.077],[1.1,0.07],[1.21,0.048],[1.05,-0.017],[0.92,0.06],[0.96,0.065],[1.0,0.072],[1.03,0.062],[0.88,0.045],[0.95,0.05],[1.0,0.055],[1.05,0.04],[1.12,0.045],[0.83,0.04],[0.9,0.03],[0.97,0.035],[1.09,0.03],[1.11,0.02],[0.85,0.015],[0.92,0.02],[1.0,0.015],[1.06,0.01],[0.82,0.005],[0.89,0.008],[0.95,-0.002],[1.02,0.004],[1.1,0.007],[0.86,-0.005],[0.93,0.045],[0.98,0.045],[1.03,0.028],[0.94,0.03],[1.07,0.05]],
  [[1.0,0.074],[0.85,0.048],[1.1,0.033],[0.91,-0.005],[1.05,-0.008],[0.93,0.05],[0.97,0.055],[1.02,0.055],[1.05,0.05],[0.9,0.04],[0.95,0.04],[1.0,0.045],[1.04,0.035],[0.88,0.03],[0.93,0.025],[0.98,0.03],[1.06,0.025],[0.86,0.015],[0.92,0.012],[0.97,0.015],[1.02,0.018],[0.95,0.005],[1.0,0.008],[1.07,0.012],[0.89,0.005],[0.96,0.03],[1.01,0.025],[0.94,0.015],[0.99,0.06],[1.04,0.045],[0.91,0.028],[0.97,0.045]],
  [[1.02,0.074],[0.98,0.05],[1.0,0.052],[0.96,0.045],[0.99,0.042],[0.94,0.035],[0.97,0.03],[1.01,0.035],[0.92,0.028],[0.95,0.022],[0.98,0.018],[0.93,0.015],[0.97,0.01],[1.0,0.025],[0.9,0.03],[0.97,0.04],[0.99,0.032],[0.95,0.028],[0.98,0.025],[0.96,0.055],[0.93,0.04],[1.0,0.045],[0.92,0.02],[0.96,0.015]],
  [[0.97,0.052],[0.99,0.05],[0.95,0.045],[1.0,0.04],[0.96,0.035],[0.93,0.03],[0.98,0.028],[0.94,0.022],[0.9,0.015],[0.92,0.01],[1.02,0.04],[0.97,0.02],[0.97,0.042],[0.95,0.032],[0.99,0.035],[0.96,0.045],[0.93,0.02],[0.98,0.045],[0.94,0.038]],
];
const ISBS_KM: Pt[][] = [
  [[1.19,0.126],[1.12,0.122],[1.02,0.117],[1.08,0.11],[1.23,0.114],[1.06,0.103],[1.11,0.102],[1.16,0.099],[1.03,0.093],[0.87,0.084],[1.13,0.082],[1.29,0.07],[0.93,0.068],[1.07,0.063],[1.16,0.067],[1.03,0.053],[1.19,0.06],[1.14,0.047],[1.16,0.04],[0.9,0.037],[1.0,0.034],[0.86,0.026],[0.96,0.016],[1.28,0.018],[1.2,0.023],[0.89,0.006],[0.98,-0.002],[0.89,-0.008],[1.28,-0.009],[1.09,-0.01],[0.98,-0.016],[1.14,-0.016],[1.11,-0.02],[1.21,-0.031],[1.11,-0.033],[0.98,-0.045],[1.01,-0.045],[0.99,-0.061],[0.99,-0.069],[0.84,-0.071],[0.73,-0.056],[1.04,-0.08],[1.12,-0.087],[1.08,-0.094],[1.26,-0.078],[1.22,-0.121]],
  [[0.9,0.085],[0.83,0.07],[0.92,0.079],[0.9,0.065],[0.97,0.06],[1.03,0.06],[1.07,0.054],[1.15,0.047],[1.15,0.032],[1.24,0.033],[0.79,0.051],[0.83,0.043],[0.91,0.032],[0.97,0.026],[1.07,0.026],[0.93,0.018],[1.03,0.015],[1.14,0.013],[0.99,0.004],[0.95,-0.002],[1.04,-0.005],[1.12,-0.001],[0.89,-0.013],[0.99,-0.016],[0.82,-0.022],[1.0,-0.024],[1.0,-0.031],[1.1,-0.023],[1.01,-0.037],[0.87,-0.008]],
  [[0.94,0.07],[1.17,0.044],[1.04,-0.027],[1.09,-0.027],[1.05,-0.043],[0.86,-0.005],[0.95,-0.005],[0.99,-0.008],[1.06,0.06],[1.03,0.065],[0.97,0.055],[1.08,0.05],[0.91,0.04],[0.98,0.03],[1.02,0.035],[1.13,0.035],[0.88,0.025],[0.95,0.015],[1.05,0.02],[1.1,0.01],[0.9,0.005],[1.0,0.0],[1.07,0.0],[0.93,0.01],[1.15,0.025],[1.01,0.045],[0.97,0.02],[1.04,0.01]],
  [[1.06,0.077],[1.15,0.031],[1.01,-0.01],[0.95,0.035],[1.0,0.03],[1.05,0.04],[0.92,0.02],[0.97,0.02],[1.03,0.022],[1.08,0.03],[0.9,0.01],[0.96,0.008],[1.0,0.012],[1.05,0.005],[0.93,0.0],[0.98,-0.002],[1.04,-0.005],[1.08,0.01],[0.87,0.025],[1.01,0.02],[0.95,0.02],[1.02,0.04],[0.99,0.01]],
  [[1.02,0.06],[1.03,0.05],[0.98,0.038],[1.0,0.045],[0.95,0.03],[0.99,0.025],[0.9,0.03],[0.93,0.02],[0.97,0.012],[0.94,0.008],[1.0,0.015],[0.96,0.005],[0.97,0.025],[0.99,0.035],[0.95,0.018],[1.01,0.028],[0.92,0.025],[0.98,0.05]],
  [[0.95,0.03],[0.98,0.035],[1.0,0.032],[0.97,0.025],[0.93,0.02],[0.96,0.015],[0.99,0.01],[0.95,0.008],[0.98,0.02],[0.97,0.018],[0.99,0.025],[0.96,0.028],[0.94,0.012]],
];

const RCLL_SERIES = [RCLL_ORACLE, RCLL_LLOGIS, RCLL_WEIBULL, RCLL_LN_SCALE, RCLL_LN_INT, RCLL_LN, RCLL_COX, RCLL_RSF, RCLL_KM];
const ISBS_SERIES = [ISBS_ORACLE, ISBS_LLOGIS, ISBS_WEIBULL, ISBS_LN_SCALE, ISBS_LN_INT, ISBS_LN, ISBS_COX, ISBS_RSF, ISBS_KM];

// layout
const PANEL_LEFT = [158, 545, 933, 1320, 1708, 2095];
const PANEL_W = 367;
const PLOT_H = 427;
const Y_AXIS_W = 110;
const PAD_L = 30; // room for the "0.0" label of panels without y axis
const X_AXIS_H = 60;
const X_DOMAIN = [-0.015, 1.455];

const ROWS = [
  {
    title: "High censoring task — RCLL",
    titleTop: 30,
    stripTop: 94,
    plotTop: 173,
    xTitleTop: 651,
    series: RCLL_SERIES,
    yDomain: [-0.76, 3.51],
    yTicks: RCLL_Y_TICKS,
    yMinor: RCLL_Y_MINOR,
    yFmt: (v: number) => String(v),
  },
  {
    title: "High censoring task — ISBS (τ* = q90)",
    titleTop: 725,
    stripTop: 789,
    plotTop: 867,
    xTitleTop: 1346,
    series: ISBS_SERIES,
    yDomain: [-0.164, 0.194],
    yTicks: ISBS_Y_TICKS,
    yMinor: ISBS_Y_MINOR,
    yFmt: (v: number) => v.toFixed(1),
  },
];

const tickStyle = { fill: "#4D4D4D", fontSize: 29, fontFamily: FONT };

function dot(color: string) {
  return (p: any) => (
    <circle
      cx={p.cx}
      cy={p.cy}
      r={5.9}
      fill={color}
      fillOpacity={0.65}
      stroke={color}
      strokeOpacity={0.65}
      strokeWidth={1.6}
    />
  );
}

function Panel({ row, i }: { row: (typeof ROWS)[number]; i: number }) {
  const first = i === 0;
  const padL = first ? 0 : PAD_L;
  const left = first ? PANEL_LEFT[i] - Y_AXIS_W : PANEL_LEFT[i] - PAD_L;
  return (
    <div style={{ position: "absolute", left, top: row.plotTop }}>
      <ScatterChart
        width={PANEL_W + (first ? Y_AXIS_W : PAD_L)}
        height={PLOT_H + X_AXIS_H}
        margin={{ top: 0, right: 0, bottom: 0, left: padL }}
      >
        <CartesianGrid stroke="#EBEBEB" strokeWidth={1.4} horizontalValues={row.yMinor} verticalValues={X_MINOR} />
        <CartesianGrid stroke="#EBEBEB" strokeWidth={2.8} horizontalValues={row.yTicks} verticalValues={X_TICKS} />
        <XAxis
          type="number"
          dataKey="x"
          domain={X_DOMAIN}
          allowDataOverflow
          ticks={X_TICKS}
          interval={0}
          height={X_AXIS_H}
          tickFormatter={(v: number) => v.toFixed(1)}
          axisLine={false}
          tickLine={{ stroke: "#333333", strokeWidth: 2 }}
          tickSize={8}
          tickMargin={11}
          tick={tickStyle}
        />
        <YAxis
          type="number"
          dataKey="y"
          domain={row.yDomain}
          allowDataOverflow
          ticks={row.yTicks}
          interval={0}
          hide={!first}
          width={Y_AXIS_W}
          tickFormatter={row.yFmt}
          axisLine={false}
          tickLine={{ stroke: "#333333", strokeWidth: 2 }}
          tickSize={8}
          tickMargin={10}
          tick={tickStyle}
        />
        {MODELS.map((m, k) => (
          <Scatter
            key={m}
            name={m}
            data={row.series[k][i].map(([x, y]) => ({ x, y }))}
            shape={dot(MODEL_COLORS[k])}
            isAnimationActive={false}
          />
        ))}
        <ReferenceLine y={0} stroke="#000000" strokeWidth={2.6} strokeDasharray="10 8" />
      </ScatterChart>
    </div>
  );
}

function Strip({ row, i }: { row: (typeof ROWS)[number]; i: number }) {
  return (
    <div
      style={{
        position: "absolute",
        left: PANEL_LEFT[i] - 1,
        top: row.stripTop,
        width: PANEL_W + 2,
        height: row.plotTop - row.stripTop + 1,
        boxSizing: "border-box",
        background: "#F2F2F2",
        border: "2px solid #333333",
        display: "flex",
        alignItems: "center",
        justifyContent: "center",
        fontSize: 44,
        color: "#1A1A1A",
        whiteSpace: "nowrap",
      }}
    >
      <span>
        n<span style={{ fontSize: "0.8em", verticalAlign: "-0.22em" }}>test</span> = {N_TEST[i]}
      </span>
    </div>
  );
}

function Border({ row, i }: { row: (typeof ROWS)[number]; i: number }) {
  return (
    <div
      style={{
        position: "absolute",
        left: PANEL_LEFT[i] - 1,
        top: row.plotTop - 1,
        width: PANEL_W + 2,
        height: PLOT_H + 2,
        boxSizing: "border-box",
        border: "2px solid #333333",
        pointerEvents: "none",
      }}
    />
  );
}

export default function App() {
  return (
    <div
      style={{
        position: "relative",
        width: 2496,
        height: 1536,
        background: "#ffffff",
        fontFamily: FONT,
        overflow: "hidden",
      }}
    >
      <style>{"body{margin:0;}"}</style>
      {ROWS.map((row, r) => (
        <React.Fragment key={r}>
          <div style={{ position: "absolute", left: 158, top: row.titleTop, fontSize: 44, lineHeight: 1, color: "#000", whiteSpace: "nowrap" }}>
            {row.title}
          </div>
          {N_TEST.map((_, i) => (
            <Strip key={"s" + i} row={row} i={i} />
          ))}
          {N_TEST.map((_, i) => (
            <Panel key={"p" + i} row={row} i={i} />
          ))}
          {N_TEST.map((_, i) => (
            <Border key={"b" + i} row={row} i={i} />
          ))}
          <div
            style={{
              position: "absolute",
              left: 53,
              top: row.plotTop + PLOT_H / 2,
              transform: "translate(-50%, -50%) rotate(-90deg)",
              fontSize: 38,
              color: "#000",
              whiteSpace: "nowrap",
              lineHeight: 1,
            }}
          >
            L<span style={{ fontSize: "0.8em", verticalAlign: "-0.22em" }}>pred</span> − L
            <span style={{ fontSize: "0.8em", verticalAlign: "-0.22em" }}>true</span>
          </div>
          <div
            style={{
              position: "absolute",
              left: 1310,
              top: row.xTitleTop,
              transform: "translateX(-50%)",
              fontSize: 37,
              lineHeight: 1,
              color: "#000",
              whiteSpace: "nowrap",
            }}
          >
            MIAE (distance to true S)
          </div>
        </React.Fragment>
      ))}
      <div
        style={{
          position: "absolute",
          left: 355,
          top: 1463,
          transform: "translateY(-50%)",
          display: "flex",
          alignItems: "center",
          whiteSpace: "nowrap",
          color: "#000",
        }}
      >
        <span style={{ fontSize: 38, marginRight: 25 }}>Model</span>
        {MODELS.map((m, k) => (
          <React.Fragment key={m}>
            <span
              style={{
                display: "inline-block",
                width: 33,
                height: 33,
                borderRadius: "50%",
                background: MODEL_COLORS[k],
                marginRight: 24,
              }}
            />
            <span style={{ fontSize: 32, marginRight: 27 }}>{m}</span>
          </React.Fragment>
        ))}
      </div>
    </div>
  );
}
